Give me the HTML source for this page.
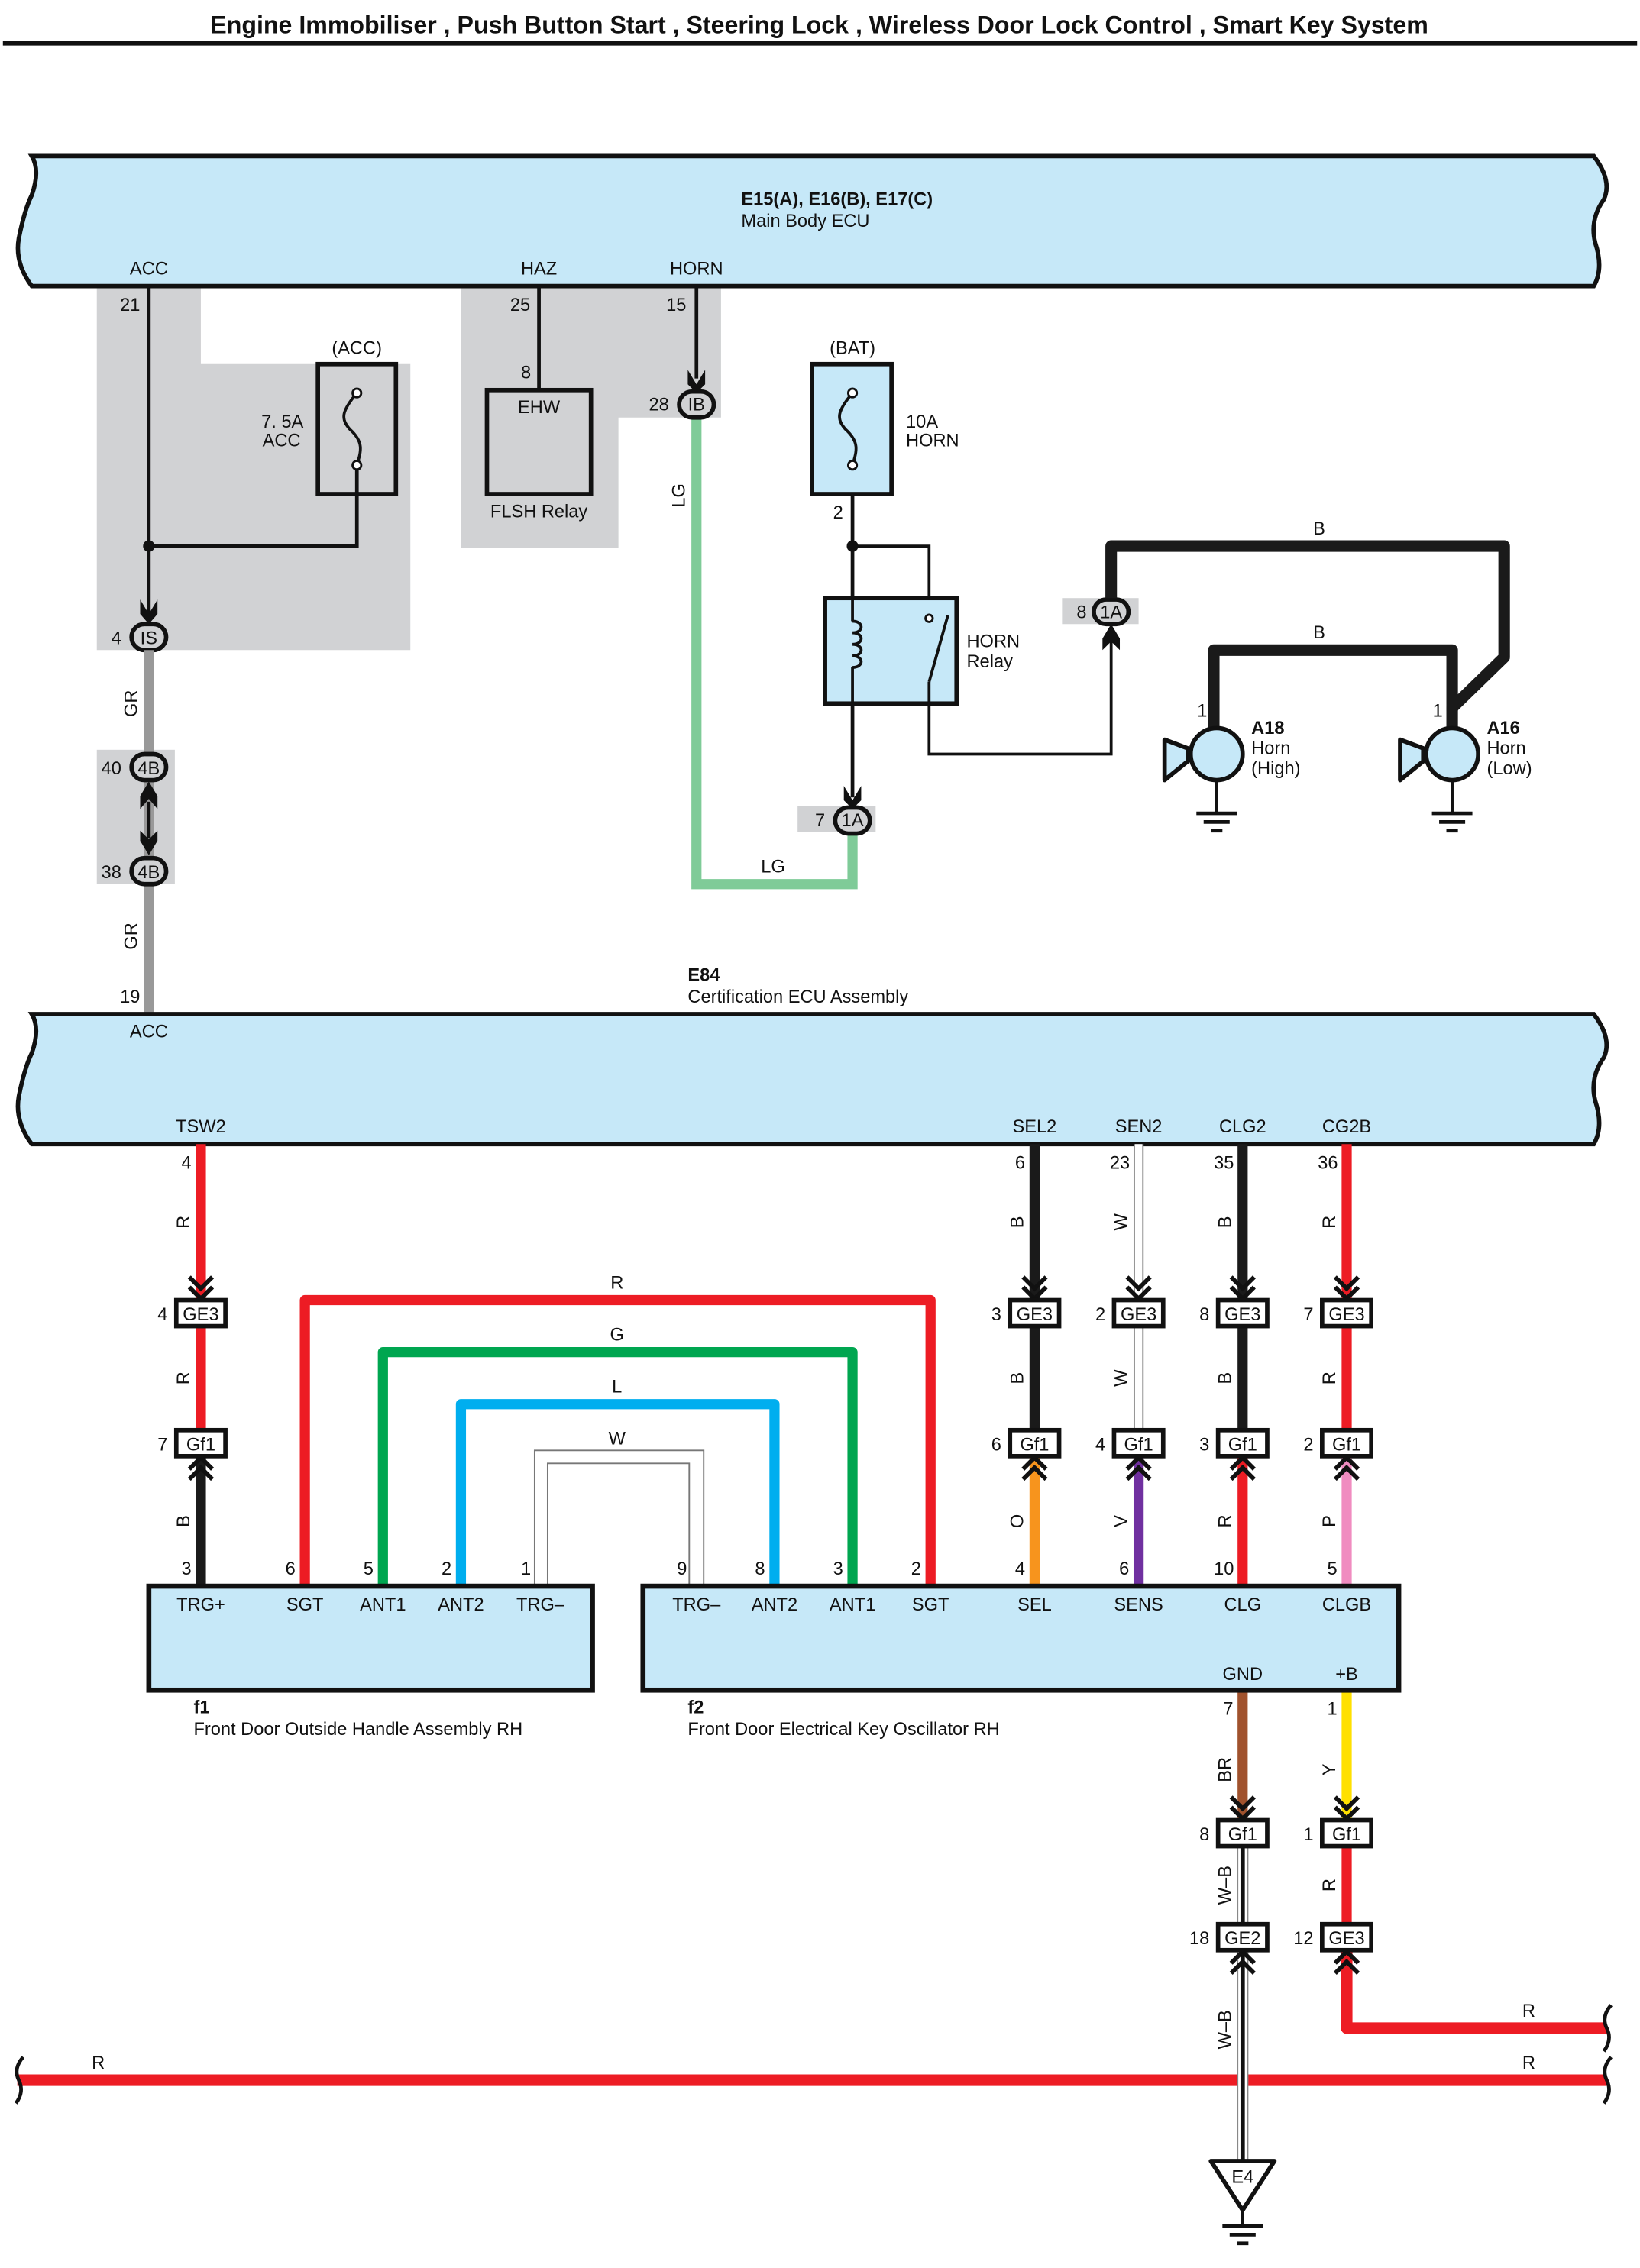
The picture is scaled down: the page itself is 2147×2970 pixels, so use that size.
<!DOCTYPE html>
<html><head><meta charset="utf-8"><style>
html,body{margin:0;padding:0;background:#fff}
svg{display:block}
text{font-family:"Liberation Sans",sans-serif;font-size:12.5px;fill:#111}
.b{font-weight:bold}
.m{text-anchor:middle}
.e{text-anchor:end}
.k{stroke:#111;fill:none}
</style></head><body>
<svg width="2147" height="2970" viewBox="0 0 1135 1570" xmlns="http://www.w3.org/2000/svg">
<defs>
<g id="cd"><polyline class="k" stroke-width="3" points="-8,-15 0,-7 8,-15"/><polyline class="k" stroke-width="3" points="-8,-8 0,0 8,-8"/></g>
<g id="cu"><polyline class="k" stroke-width="3" points="-8,15 0,7 8,15"/><polyline class="k" stroke-width="3" points="-8,8 0,0 8,8"/></g>
</defs>
<text x="567" y="23" class="m b" style="font-size:17px">Engine Immobiliser , Push Button Start , Steering Lock , Wireless Door Lock Control , Smart Key System</text>
<line x1="2" y1="30" x2="1133" y2="30" stroke="#111" stroke-width="3"/>

<!-- gray areas -->
<polygon points="67,198 139,198 139,252 284,252 284,450 67,450" fill="#d1d2d4"/>
<polygon points="319,198 499,198 499,289 428,289 428,379 319,379" fill="#d1d2d4"/>
<rect x="67" y="519" width="54" height="93" fill="#d1d2d4"/>
<rect x="552" y="558" width="54" height="18" fill="#d1d2d4"/>
<rect x="735" y="414" width="53" height="18" fill="#d1d2d4"/>

<!-- Top ECU -->
<path d="M22,108 L1103,108 Q1116,125 1110,138 Q1100,152 1104,168 Q1110,186 1103,198 L22,198 Q10,182 13,165 Q17,145 22,135 Q28,118 22,108 Z" fill="#c6e8f8" stroke="#111" stroke-width="3"/>
<text x="513" y="142" class="b">E15(A), E16(B), E17(C)</text>
<text x="513" y="157">Main Body ECU</text>
<text x="103" y="190" class="m">ACC</text>
<text x="373" y="190" class="m">HAZ</text>
<text x="482" y="190" class="m">HORN</text>

<!-- ACC -->
<line x1="103" y1="198" x2="103" y2="428" stroke="#111" stroke-width="2.5"/>
<text x="90" y="215" class="m">21</text>
<circle cx="103" cy="378" r="4" fill="#111"/>
<polyline class="k" stroke-width="2.5" points="103,378 247,378 247,322"/>
<rect x="220" y="252" width="54" height="90" fill="none" stroke="#111" stroke-width="3"/>
<path d="M247,272 C236,285 236,290 242,297 C252,306 250,312 247,322" class="k" stroke-width="2"/>
<circle cx="247" cy="272" r="3" fill="#fff" stroke="#111" stroke-width="1.5"/>
<circle cx="247" cy="322" r="3" fill="#fff" stroke="#111" stroke-width="1.5"/>
<text x="247" y="245" class="m">(ACC)</text>
<text x="210" y="296" class="e">7. 5A</text>
<text x="208" y="309" class="e">ACC</text>
<path d="M97,415 L103,425 L109,415 L109,425 L103,432 L97,425Z" fill="#111"/>
<rect x="91" y="432" width="24" height="18" rx="9" fill="#d1d2d4" stroke="#111" stroke-width="3"/>
<text x="103" y="446" class="m">IS</text>
<text x="84" y="446" class="e">4</text>
<line x1="103" y1="450" x2="103" y2="522" stroke="#999" stroke-width="7"/>
<line x1="103" y1="540" x2="103" y2="594" stroke="#999" stroke-width="7"/>
<line x1="103" y1="612" x2="103" y2="702" stroke="#999" stroke-width="7"/>
<text transform="translate(95,487) rotate(-90)" class="m">GR</text>
<text transform="translate(95,648) rotate(-90)" class="m">GR</text>
<rect x="91" y="522" width="24" height="18" rx="9" fill="#d1d2d4" stroke="#111" stroke-width="3"/>
<text x="103" y="536" class="m">4B</text><text x="84" y="536" class="e">40</text>
<rect x="91" y="594" width="24" height="18" rx="9" fill="#d1d2d4" stroke="#111" stroke-width="3"/>
<text x="103" y="608" class="m">4B</text><text x="84" y="608" class="e">38</text>
<path d="M97,551 L103,541 L109,551 L109,560 L103,553 L97,560Z" fill="#111"/>
<path d="M97,582 L103,592 L109,582 L109,575 L103,581 L97,575Z" fill="#111"/>
<line x1="103" y1="555" x2="103" y2="580" stroke="#111" stroke-width="2.5"/>
<text x="90" y="694" class="m">19</text>

<!-- HAZ -->
<line x1="373" y1="198" x2="373" y2="270" stroke="#111" stroke-width="2.5"/>
<text x="360" y="215" class="m">25</text>
<text x="364" y="262" class="m">8</text>
<rect x="337" y="270" width="72" height="72" fill="none" stroke="#111" stroke-width="3"/>
<text x="373" y="286" class="m">EHW</text>
<text x="373" y="358" class="m">FLSH Relay</text>

<!-- HORN -->
<line x1="482" y1="198" x2="482" y2="262" stroke="#111" stroke-width="2.5"/>
<text x="468" y="215" class="m">15</text>
<path d="M476,256 L482,266 L488,256 L488,266 L482,272 L476,266Z" fill="#111"/>
<polyline points="482,288 482,612 590,612 590,576" fill="none" stroke="#7fcb98" stroke-width="7"/>
<rect x="470" y="271" width="24" height="18" rx="9" fill="#d1d2d4" stroke="#111" stroke-width="3"/>
<text x="482" y="284" class="m">IB</text><text x="463" y="284" class="e">28</text>
<text transform="translate(474,343) rotate(-90)" class="m">LG</text>
<text x="535" y="604" class="m">LG</text>

<!-- BAT fuse -->
<rect x="562" y="252" width="55" height="90" fill="#c6e8f8" stroke="#111" stroke-width="3"/>
<path d="M590,272 C579,285 579,290 585,297 C595,306 593,312 590,322" class="k" stroke-width="2"/>
<circle cx="590" cy="272" r="3" fill="#fff" stroke="#111" stroke-width="1.5"/>
<circle cx="590" cy="322" r="3" fill="#fff" stroke="#111" stroke-width="1.5"/>
<text x="590" y="245" class="m">(BAT)</text>
<text x="627" y="296">10A</text><text x="627" y="309">HORN</text>
<line x1="590" y1="342" x2="590" y2="552" stroke="#111" stroke-width="2.5"/>
<text x="580" y="359" class="m">2</text>
<circle cx="590" cy="378" r="4" fill="#111"/>
<polyline class="k" stroke-width="2" points="590,378 643,378 643,425"/>
<rect x="571" y="414" width="91" height="73" fill="#c6e8f8" stroke="#111" stroke-width="3"/>
<path d="M590,430 c8,0 8,8 0,8 c8,0 8,8 0,8 c8,0 8,8 0,8 c8,0 8,8 0,8" class="k" stroke-width="2"/>
<line x1="590" y1="414" x2="590" y2="430" stroke="#111" stroke-width="2"/>
<line x1="590" y1="462" x2="590" y2="487" stroke="#111" stroke-width="2"/>
<circle cx="643" cy="428" r="2.5" fill="#fff" stroke="#111" stroke-width="1.5"/>
<line x1="643" y1="472" x2="656" y2="426" stroke="#111" stroke-width="2"/>
<polyline class="k" stroke-width="2" points="643,472 643,522 769,522 769,440"/>
<text x="669" y="448">HORN</text><text x="669" y="462">Relay</text>
<path d="M584,544 L590,554 L596,544 L596,554 L590,560 L584,554Z" fill="#111"/>
<rect x="578" y="559" width="24" height="18" rx="9" fill="#d1d2d4" stroke="#111" stroke-width="3"/>
<text x="590" y="572" class="m">1A</text><text x="571" y="572" class="e">7</text>
<rect x="757" y="415" width="24" height="17" rx="8.5" fill="#d1d2d4" stroke="#111" stroke-width="3"/>
<text x="769" y="428" class="m">1A</text><text x="752" y="428" class="e">8</text>
<path d="M763,442 L769,432 L775,442 L775,450 L769,444 L763,450Z" fill="#111"/>

<!-- B wires -->
<polyline points="769,414 769,378 1041,378 1041,455 1005,490 1005,510" fill="none" stroke="#1a1a1a" stroke-width="8" stroke-linejoin="round"/>
<polyline points="840,510 840,450 1005,450 1005,492" fill="none" stroke="#1a1a1a" stroke-width="8" stroke-linejoin="round"/>
<text x="913" y="370" class="m">B</text><text x="913" y="442" class="m">B</text>
<!-- horns -->
<g id="horn">
<polygon points="806,512 822,518 822,527 806,540" fill="#c6e8f8" stroke="#111" stroke-width="3" stroke-linejoin="round"/>
<circle cx="842" cy="522" r="18" fill="#c6e8f8" stroke="#111" stroke-width="3"/>
<line x1="842" y1="540" x2="842" y2="563" stroke="#111" stroke-width="2"/>
<line x1="828" y1="563" x2="856" y2="563" stroke="#111" stroke-width="2.5"/>
<line x1="833" y1="569" x2="851" y2="569" stroke="#111" stroke-width="2.5"/>
<line x1="838" y1="575" x2="846" y2="575" stroke="#111" stroke-width="2.5"/>
</g>
<use href="#horn" x="163"/>
<text x="832" y="496" class="m">1</text><text x="995" y="496" class="m">1</text>
<text x="866" y="508" class="b">A18</text><text x="866" y="522">Horn</text><text x="866" y="536">(High)</text>
<text x="1029" y="508" class="b">A16</text><text x="1029" y="522">Horn</text><text x="1029" y="536">(Low)</text>

<!-- Lower ECU -->
<text x="476" y="679" class="b">E84</text>
<text x="476" y="694">Certification ECU Assembly</text>
<path d="M22,702 L1103,702 Q1116,719 1110,732 Q1100,746 1104,762 Q1110,780 1103,792 L22,792 Q10,776 13,759 Q17,739 22,729 Q28,712 22,702 Z" fill="#c6e8f8" stroke="#111" stroke-width="3"/>
<text x="103" y="718" class="m">ACC</text>
<text x="139" y="784" class="m">TSW2</text>
<text x="716" y="784" class="m">SEL2</text>
<text x="788" y="784" class="m">SEN2</text>
<text x="860" y="784" class="m">CLG2</text>
<text x="932" y="784" class="m">CG2B</text>

<!-- loops -->
<polyline points="211,1098 211,900 644,900 644,1098" fill="none" stroke="#ed1c24" stroke-width="7" stroke-linejoin="round"/>
<polyline points="265,1098 265,936 590,936 590,1098" fill="none" stroke="#00a650" stroke-width="7" stroke-linejoin="round"/>
<polyline points="319,1098 319,972 536,972 536,1098" fill="none" stroke="#00aeef" stroke-width="7" stroke-linejoin="round"/>
<polyline points="370,1098 370,1004 487,1004 487,1098" fill="none" stroke="#777" stroke-width="1"/>
<polyline points="379,1098 379,1013 477,1013 477,1098" fill="none" stroke="#777" stroke-width="1"/>
<text x="427" y="892" class="m">R</text><text x="427" y="928" class="m">G</text>
<text x="427" y="964" class="m">L</text><text x="427" y="1000" class="m">W</text>

<!-- vertical wires -->
<line x1="139" y1="792" x2="139" y2="999" stroke="#ed1c24" stroke-width="7"/>
<line x1="139" y1="999" x2="139" y2="1098" stroke="#1a1a1a" stroke-width="7"/>
<line x1="716" y1="792" x2="716" y2="999" stroke="#1a1a1a" stroke-width="7"/>
<line x1="716" y1="999" x2="716" y2="1098" stroke="#f7941d" stroke-width="7"/>
<line x1="788" y1="792" x2="788" y2="999" stroke="#888" stroke-width="7"/>
<line x1="788" y1="792" x2="788" y2="999" stroke="#fff" stroke-width="5"/>
<line x1="788" y1="999" x2="788" y2="1098" stroke="#7030a0" stroke-width="7"/>
<line x1="860" y1="792" x2="860" y2="999" stroke="#1a1a1a" stroke-width="7"/>
<line x1="860" y1="999" x2="860" y2="1098" stroke="#ed1c24" stroke-width="7"/>
<line x1="932" y1="792" x2="932" y2="999" stroke="#ed1c24" stroke-width="7"/>
<line x1="932" y1="999" x2="932" y2="1098" stroke="#f08cc0" stroke-width="7"/>
<line x1="860" y1="1170" x2="860" y2="1269" stroke="#a0522d" stroke-width="7"/>
<line x1="932" y1="1170" x2="932" y2="1269" stroke="#ffe000" stroke-width="7"/>
<line x1="932" y1="1269" x2="932" y2="1341" stroke="#ed1c24" stroke-width="7"/>
<polyline points="932,1341 932,1404 1112,1404" fill="none" stroke="#ed1c24" stroke-width="8" stroke-linejoin="round"/>
<line x1="12" y1="1440" x2="1112" y2="1440" stroke="#ed1c24" stroke-width="8"/>
<g>
<line x1="860" y1="1278" x2="860" y2="1496" stroke="#888" stroke-width="8"/>
<line x1="860" y1="1278" x2="860" y2="1496" stroke="#fff" stroke-width="6"/>
<line x1="860" y1="1278" x2="860" y2="1496" stroke="#111" stroke-width="3"/>
</g>
<!-- break marks -->
<path d="M1115,1388 Q1108,1396 1112,1404 Q1116,1412 1110,1420" class="k" stroke-width="2.5"/>
<path d="M1115,1424 Q1108,1432 1112,1440 Q1116,1448 1110,1456" class="k" stroke-width="2.5"/>
<path d="M16,1424 Q9,1432 13,1440 Q17,1448 11,1456" class="k" stroke-width="2.5"/>
<text x="68" y="1432" class="m">R</text><text x="1058" y="1432" class="m">R</text><text x="1058" y="1396" class="m">R</text>

<!-- E4 ground -->
<polygon points="838,1496 882,1496 860,1530" fill="#fff" stroke="#111" stroke-width="3" stroke-linejoin="round"/>
<text x="860" y="1511" class="m">E4</text>
<line x1="860" y1="1530" x2="860" y2="1541" stroke="#111" stroke-width="2"/>
<line x1="846" y1="1541" x2="874" y2="1541" stroke="#111" stroke-width="2.5"/>
<line x1="851" y1="1547" x2="869" y2="1547" stroke="#111" stroke-width="2.5"/>
<line x1="856" y1="1553" x2="864" y2="1553" stroke="#111" stroke-width="2.5"/>

<!-- pin numbers / labels -->
<g>
<text x="129" y="809" class="m">4</text><text x="706" y="809" class="m">6</text><text x="775" y="809" class="m">23</text><text x="847" y="809" class="m">35</text><text x="919" y="809" class="m">36</text>
<text transform="translate(131,846) rotate(-90)" class="m">R</text>
<text transform="translate(708,846) rotate(-90)" class="m">B</text>
<text transform="translate(780,846) rotate(-90)" class="m">W</text>
<text transform="translate(852,846) rotate(-90)" class="m">B</text>
<text transform="translate(924,846) rotate(-90)" class="m">R</text>
<text transform="translate(131,954) rotate(-90)" class="m">R</text>
<text transform="translate(708,954) rotate(-90)" class="m">B</text>
<text transform="translate(780,954) rotate(-90)" class="m">W</text>
<text transform="translate(852,954) rotate(-90)" class="m">B</text>
<text transform="translate(924,954) rotate(-90)" class="m">R</text>
<text transform="translate(131,1053) rotate(-90)" class="m">B</text>
<text transform="translate(708,1053) rotate(-90)" class="m">O</text>
<text transform="translate(780,1053) rotate(-90)" class="m">V</text>
<text transform="translate(852,1053) rotate(-90)" class="m">R</text>
<text transform="translate(924,1053) rotate(-90)" class="m">P</text>
<text transform="translate(852,1225) rotate(-90)" class="m">BR</text>
<text transform="translate(924,1225) rotate(-90)" class="m">Y</text>
<text transform="translate(852,1305) rotate(-90)" class="m">W–B</text>
<text transform="translate(924,1305) rotate(-90)" class="m">R</text>
<text transform="translate(852,1405) rotate(-90)" class="m">W–B</text>
<text x="129" y="1090" class="m">3</text><text x="201" y="1090" class="m">6</text><text x="255" y="1090" class="m">5</text><text x="309" y="1090" class="m">2</text><text x="364" y="1090" class="m">1</text>
<text x="472" y="1090" class="m">9</text><text x="526" y="1090" class="m">8</text><text x="580" y="1090" class="m">3</text><text x="634" y="1090" class="m">2</text><text x="706" y="1090" class="m">4</text><text x="778" y="1090" class="m">6</text><text x="847" y="1090" class="m">10</text><text x="922" y="1090" class="m">5</text>
<text x="850" y="1187" class="m">7</text><text x="922" y="1187" class="m">1</text>
</g>

<!-- connectors -->
<g stroke="none">
<use href="#cd" x="139" y="899"/><use href="#cd" x="716" y="899"/><use href="#cd" x="788" y="899"/><use href="#cd" x="860" y="899"/><use href="#cd" x="932" y="899"/>
<use href="#cu" x="139" y="1009"/><use href="#cu" x="716" y="1009"/><use href="#cu" x="788" y="1009"/><use href="#cu" x="860" y="1009"/><use href="#cu" x="932" y="1009"/>
<use href="#cd" x="860" y="1259"/><use href="#cd" x="932" y="1259"/>
<use href="#cu" x="860" y="1351"/><use href="#cu" x="932" y="1351"/>
</g>
<g fill="#fff" stroke="#111" stroke-width="3">
<rect x="122" y="900" width="34" height="18"/><rect x="699" y="900" width="34" height="18"/><rect x="771" y="900" width="34" height="18"/><rect x="843" y="900" width="34" height="18"/><rect x="915" y="900" width="34" height="18"/>
<rect x="122" y="990" width="34" height="18"/><rect x="699" y="990" width="34" height="18"/><rect x="771" y="990" width="34" height="18"/><rect x="843" y="990" width="34" height="18"/><rect x="915" y="990" width="34" height="18"/>
<rect x="843" y="1260" width="34" height="18"/><rect x="915" y="1260" width="34" height="18"/>
<rect x="843" y="1332" width="34" height="18"/><rect x="915" y="1332" width="34" height="18"/>
</g>
<g>
<text x="139" y="914" class="m">GE3</text><text x="716" y="914" class="m">GE3</text><text x="788" y="914" class="m">GE3</text><text x="860" y="914" class="m">GE3</text><text x="932" y="914" class="m">GE3</text>
<text x="116" y="914" class="e">4</text><text x="693" y="914" class="e">3</text><text x="765" y="914" class="e">2</text><text x="837" y="914" class="e">8</text><text x="909" y="914" class="e">7</text>
<text x="139" y="1004" class="m">Gf1</text><text x="716" y="1004" class="m">Gf1</text><text x="788" y="1004" class="m">Gf1</text><text x="860" y="1004" class="m">Gf1</text><text x="932" y="1004" class="m">Gf1</text>
<text x="116" y="1004" class="e">7</text><text x="693" y="1004" class="e">6</text><text x="765" y="1004" class="e">4</text><text x="837" y="1004" class="e">3</text><text x="909" y="1004" class="e">2</text>
<text x="860" y="1274" class="m">Gf1</text><text x="932" y="1274" class="m">Gf1</text><text x="837" y="1274" class="e">8</text><text x="909" y="1274" class="e">1</text>
<text x="860" y="1346" class="m">GE2</text><text x="932" y="1346" class="m">GE3</text><text x="837" y="1346" class="e">18</text><text x="909" y="1346" class="e">12</text>
</g>

<!-- f1 f2 -->
<rect x="103" y="1098" width="307" height="72" fill="#c6e8f8" stroke="#111" stroke-width="3.5"/>
<rect x="445" y="1098" width="523" height="72" fill="#c6e8f8" stroke="#111" stroke-width="3.5"/>
<g>
<text x="139" y="1115" class="m">TRG+</text><text x="211" y="1115" class="m">SGT</text><text x="265" y="1115" class="m">ANT1</text><text x="319" y="1115" class="m">ANT2</text><text x="374" y="1115" class="m">TRG–</text>
<text x="482" y="1115" class="m">TRG–</text><text x="536" y="1115" class="m">ANT2</text><text x="590" y="1115" class="m">ANT1</text><text x="644" y="1115" class="m">SGT</text><text x="716" y="1115" class="m">SEL</text><text x="788" y="1115" class="m">SENS</text><text x="860" y="1115" class="m">CLG</text><text x="932" y="1115" class="m">CLGB</text>
<text x="860" y="1163" class="m">GND</text><text x="932" y="1163" class="m">+B</text>
<text x="134" y="1186" class="b">f1</text><text x="134" y="1201">Front Door Outside Handle Assembly RH</text>
<text x="476" y="1186" class="b">f2</text><text x="476" y="1201">Front Door Electrical Key Oscillator RH</text>
</g>
</svg>
</body></html>
